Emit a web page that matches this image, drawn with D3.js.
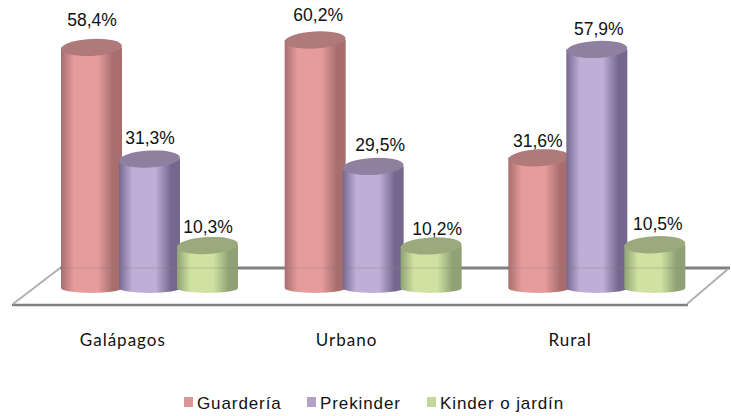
<!DOCTYPE html>
<html><head><meta charset="utf-8">
<style>html,body{margin:0;padding:0;background:#fff}svg{display:block}</style>
<script src="https://cdn.jsdelivr.net/npm/d3@7"></script></head><body><svg id="c" width="731" height="416"></svg>
<script>
const categories=["Galápagos","Urbano","Rural"];
const seriesNames=["Guardería","Prekinder","Kinder o jardín"];
const guarderia=[58.4,60.2,31.6];
const prekinder=[31.3,29.5,57.9];
const kinder=[10.3,10.2,10.5];
const seriesValues=[guarderia,prekinder,kinder];
// label placement relative to the top of each cylinder, [series][category]
const labelDx=[[.5,3,-1],[.5,7,2],[.5,6,3]];
const labelGap=[[21,19,11],[15,15.5,14.5],[12.5,11,14.5]];
const palette=[
 {mid:"#e69c9c",edge:"#a86e6e",top:"#b07a7a",key:"#d99694"},
 {mid:"#bfaed6",edge:"#75688f",top:"#8f809f",key:"#b3a2c7"},
 {mid:"#cfe2a2",edge:"#90a274",top:"#9aaa7c",key:"#c3d69b"}];

const svg=d3.select("#c");
const x0=d3.scaleBand().domain(categories).range([38.5,709.5]);
const x1=d3.scaleBand().domain(seriesNames).range([24,198]);
const y=d3.scaleLinear().domain([0,60.2]).range([288,40]);
const rx=30.5,ry=8.5,ryBase=5;

const defs=svg.append("defs");
palette.forEach((p,i)=>{
  const g=defs.append("linearGradient").attr("id","g"+i);
  [[0,p.edge],[.22,p.mid],[.6,p.mid],[.85,p.edge],[1,p.edge]].forEach(s=>g.append("stop").attr("offset",s[0]).attr("stop-color",s[1]));
});
const blur=defs.append("filter").attr("id","soft").attr("x","-5%").attr("y","-5%").attr("width","110%").attr("height","110%");
blur.append("feGaussianBlur").attr("stdDeviation",0.6);

const floor=svg.append("g").attr("stroke","#808080").attr("fill","none");
floor.append("line").attr("x1",60).attr("x2",730).attr("y1",268).attr("y2",268).attr("stroke-width",3);
floor.append("line").attr("x1",12).attr("x2",688).attr("y1",305).attr("y2",305).attr("stroke-width",2.5);
floor.append("line").attr("x1",13).attr("y1",304).attr("x2",60).attr("y2",268).attr("stroke","#b0b0b0").attr("stroke-width",2);
floor.append("line").attr("x1",687).attr("y1",304).attr("x2",728).attr("y2",269).attr("stroke","#b0b0b0").attr("stroke-width",2);

categories.forEach((c,ci)=>{
  const grp=svg.append("g").attr("transform",`translate(${x0(c)},0)`);
  seriesNames.forEach((s,si)=>{
    const v=seriesValues[si][ci];
    const cx=x1(s)+x1.bandwidth()/2;
    const ty=y(v),by=y(0);
    const b=grp.append("g").attr("filter","url(#soft)");
    b.append("path").attr("fill",`url(#g${si})`)
      .attr("d",`M${cx-rx},${ty}L${cx-rx},${by}A${rx},${ryBase} 0 0 0 ${cx+rx},${by}L${cx+rx},${ty}Z`);
    b.append("ellipse").attr("cx",cx).attr("cy",ty).attr("rx",rx).attr("ry",ry).attr("fill",palette[si].top)
      .attr("transform",`rotate(-3 ${cx} ${ty})`);
    grp.append("text").attr("x",cx+labelDx[si][ci]).attr("y",ty-labelGap[si][ci])
      .attr("text-anchor","middle").attr("font-family","Liberation Sans").attr("font-size",17.5).attr("fill","#111")
      .text(v.toFixed(1).replace(".",",")+"%");
  });
  grp.append("line").attr("x1",24).attr("x2",198).attr("y1",268).attr("y2",268).attr("stroke","#808080").attr("stroke-opacity",.18).attr("stroke-width",2);
});

svg.append("g").selectAll("text").data(categories).join("text")
  .attr("x",d=>x0(d)+x0.bandwidth()/2-27.5).attr("y",346)
  .attr("text-anchor","middle").attr("font-family","Lato").attr("font-size",17).attr("letter-spacing",1).attr("fill","#111").text(d=>d);

const legendX=[184,307,427];
const lg=svg.append("g").selectAll("g").data(seriesNames).join("g").attr("transform",(d,i)=>`translate(${legendX[i]},0)`);
lg.append("rect").attr("y",397).attr("width",9).attr("height",10).attr("fill",(d,i)=>palette[i].key);
lg.append("text").attr("x",13).attr("y",409).attr("font-family","Liberation Sans").attr("font-size",17).attr("letter-spacing",.9).attr("fill","#111").text(d=>d);
</script></body></html>
